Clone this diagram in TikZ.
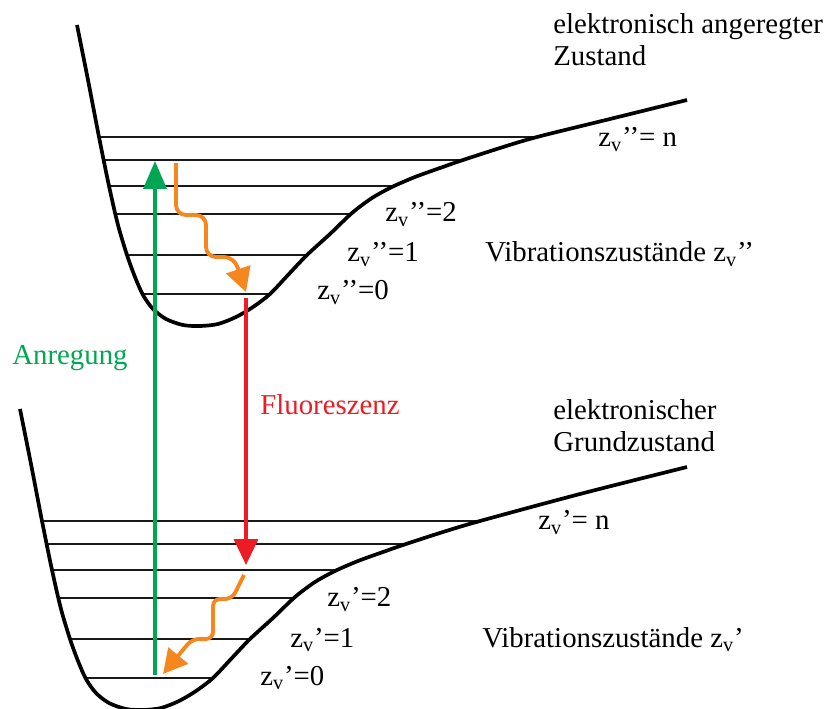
\documentclass[tikz,border=0pt]{standalone}
\usepackage{fontspec}
\setmainfont{Liberation Serif}
\usetikzlibrary{arrows.meta}
\definecolor{excgreen}{RGB}{0,166,81}
\definecolor{flured}{RGB}{237,28,36}
\definecolor{relaxorange}{RGB}{245,135,30}
\newcommand{\lblfont}{\fontsize{16.4}{18.2}\selectfont}
\newcommand{\zv}[1]{z\textsubscript{v}#1}
\tikzset{
  potcurve/.style={draw=black, line width=2.1pt, line join=round},
  vlevel/.style={draw=black!90, line width=1.3pt},
  exctrans/.style={-{Triangle[width=0.46cm,length=0.56cm]}, draw=excgreen, line width=2pt},
  flutrans/.style={-{Triangle[width=0.48cm,length=0.52cm]}, draw=flured, line width=2pt},
  relaxtrans/.style={-{Triangle[width=0.5cm,length=0.48cm]}, draw=relaxorange,
                     line width=2.2pt, rounded corners=0.2cm},
  statelbl/.style={anchor=base west, inner sep=0pt, font=\lblfont},
  statetitle/.style={anchor=north west, inner sep=0pt, align=left, font=\lblfont},
}

\begin{document}
\begin{tikzpicture}[x=0.02cm, y=-0.02cm]
    \useasboundingbox (0,0) rectangle (829,709);

      % vibrational levels (lower state = upper state shifted)
      \foreach \xl/\xr/\y in {99/537/137, 104/460/160, 109/392/186, 115/352/214, 127/307/255, 142/270/294} {
        \draw[vlevel] (\xl,\y) -- (\xr,\y);
        \draw[vlevel] (\xl-57,\y+384) -- (\xr-57,\y+384);
      }

      % potential curves
      \draw[potcurve] plot[smooth, tension=0.5] coordinates {(77,25) (88,80) (99,137) (109,186)
        (118,225) (127,255) (135,277) (143,295) (153,309) (166,319) (183,325) (200,326) (218,324)
        (236,317) (253,307) (270,294) (288,275) (307,255) (330,234) (352,213) (372,198) (392,187)
        (415,177) (440,168) (460,161) (500,148) (537,137) (610,119) (687,100)};
      \draw[potcurve] plot[smooth, tension=0.5] coordinates {(20,409) (31,464) (42,521) (52,570)
        (61,609) (70,639) (78,661) (86,679) (96,693) (109,703) (126,709) (143,710) (161,708)
        (179,701) (196,691) (213,678) (231,659) (250,639) (273,618) (295,597) (315,582) (335,571)
        (358,561) (383,552) (403,545) (443,532) (480,521) (580,494) (687,467)};

      % transitions
      \coordinate (exc-from) at (155,675);
      \coordinate (exc-to) at (155,161);
      \coordinate (flu-from) at (246,298);
      \coordinate (flu-to) at (246,565);
      \coordinate (relax-up-from) at (176,163);
      \coordinate (relax-up-to) at (246,292);
      \coordinate (relax-lo-from) at (244,575);
      \coordinate (relax-lo-to) at (163,674);

      \draw[exctrans] (exc-from) -- (exc-to);
      \draw[flutrans] (flu-from) -- (flu-to);
      \draw[relaxtrans] (relax-up-from) -- (176,215) -- (206,215) -- (206,257) -- (234,257) -- (relax-up-to);
      \draw[relaxtrans, rounded corners=0.14cm] (relax-lo-from) -- (232,599) -- (213,599) -- (213,639)
        -- (192,639) -- (relax-lo-to);

      % labels
      \node[statetitle] (exc-state) at (553,13) {elektronisch angeregter\\Zustand};
      \node[statetitle] (ground-state) at (553,399) {elektronischer\\Grundzustand};

      \node[statelbl] (lvl-up-n) at (598,147) {\zv{’’= n}};
      \node[statelbl] (lvl-up-2) at (385,222) {\zv{’’=2}};
      \node[statelbl] (lvl-up-1) at (347,262) {\zv{’’=1}};
      \node[statelbl] (lvl-up-0) at (317,300) {\zv{’’=0}};
      \node[statelbl] (vib-up) at (485,262) {Vibrationszustände \zv{’’}};

      \node[statelbl] (lvl-lo-n) at (538,530) {\zv{’= n}};
      \node[statelbl] (lvl-lo-2) at (327,607) {\zv{’=2}};
      \node[statelbl] (lvl-lo-1) at (290,647) {\zv{’=1}};
      \node[statelbl] (lvl-lo-0) at (260,685) {\zv{’=0}};
      \node[statelbl] (vib-lo) at (482,647) {Vibrationszustände \zv{’}};

      \node[statelbl, text=excgreen] (exc-lbl) at (12,365) {Anregung};
      \node[statelbl, text=flured] (flu-lbl) at (260,415) {Fluoreszenz};

    \end{tikzpicture}
\end{document}
